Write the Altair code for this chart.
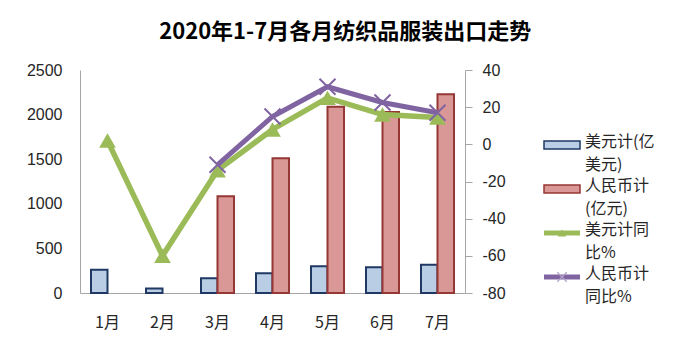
import altair as alt
import pandas as pd

# ---- data ----
months = ["1月", "2月", "3月", "4月", "5月", "6月", "7月"]
usd_value = [261, 50, 165, 221, 299, 288, 318]
cny_value = [None, None, 1084, 1510, 2089, 2030, 2228]
usd_yoy = [2, -60, -14, 8, 25, 16, 14.5]
cny_yoy = [None, None, -11, 15, 31, 22.5, 17]
bar_series = ["美元计(亿美元)", "人民币计(亿元)"]
line_series = ["美元计同比%", "人民币计同比%"]
legend_labels = ["美元计(亿\n美元)", "人民币计\n(亿元)", "美元计同\n比%", "人民币计\n同比%"]
left_ticks = [0, 500, 1000, 1500, 2000, 2500]
right_ticks = [-80, -60, -40, -20, 0, 20, 40]
title_text = "2020年1-7月各月纺织品服装出口走势"

# ---- styles ----
CJK = "Noto Sans CJK SC"
NUM = "Liberation Sans"
bar_fill = ["#B9CDE5", "#D99795"]
bar_stroke = ["#1F3864", "#953735"]
GREEN = "#9BBB59"
PURPLE = "#8064A2"
AXIS_C = "#A6A6A6"
TXT = "#262626"

# ---- tables ----
bar_rows = []
for m, u, c in zip(months, usd_value, cny_value):
    if u is not None:
        bar_rows.append({"month": m, "series": bar_series[0], "value": u})
    if c is not None:
        bar_rows.append({"month": m, "series": bar_series[1], "value": c})
bars_df = pd.DataFrame(bar_rows)

line_rows = []
for m, u, c in zip(months, usd_yoy, cny_yoy):
    if u is not None:
        line_rows.append({"month": m, "series": line_series[0], "yoy": u})
    if c is not None:
        line_rows.append({"month": m, "series": line_series[1], "yoy": c})
lines_df = pd.DataFrame(line_rows)

x_enc = alt.X(
    "month:N", sort=months,
    scale=alt.Scale(domain=months, paddingInner=0.4, paddingOuter=0.2),
    axis=alt.Axis(title=None, labelAngle=0, ticks=False, tickSize=0,
                  labelFont=CJK, labelFontSize=16, labelPadding=21,
                  labelColor=TXT, domainColor=AXIS_C),
)

bars = alt.Chart(bars_df).mark_bar(strokeWidth=2).encode(
    x=x_enc,
    xOffset=alt.XOffset("series:N", sort=bar_series,
                        scale=alt.Scale(domain=bar_series, paddingInner=0, paddingOuter=0)),
    y=alt.Y("value:Q", scale=alt.Scale(domain=[0, 2500]),
            axis=alt.Axis(title=None, values=left_ticks, labelExpr="toString(datum.value)",
                          orient="left", ticks=False,
                          tickSize=0, labelPadding=18, labelFont=NUM, labelFontSize=16,
                          labelColor=TXT, domainColor=AXIS_C)),
    fill=alt.Fill("series:N", scale=alt.Scale(domain=bar_series, range=bar_fill), legend=None),
    stroke=alt.Stroke("series:N", scale=alt.Scale(domain=bar_series, range=bar_stroke), legend=None),
)

y_right = alt.Y("yoy:Q", scale=alt.Scale(domain=[-80, 40]),
                axis=alt.Axis(title=None, values=right_ticks, labelExpr="toString(datum.value)",
                              orient="right", tickSize=7,
                              labelPadding=10, labelFont=NUM, labelFontSize=16,
                              labelColor=TXT, domainColor=AXIS_C, tickColor=AXIS_C))

lbase = alt.Chart(lines_df).encode(x=x_enc, y=y_right)
g_line = lbase.transform_filter(alt.datum.series == line_series[0]).mark_line(
    color=GREEN, strokeWidth=5.5)
g_pts = lbase.transform_filter(alt.datum.series == line_series[0]).mark_point(
    shape="triangle-up", filled=True, size=280, color=GREEN, opacity=1)
p_line = lbase.transform_filter(alt.datum.series == line_series[1]).mark_line(
    color=PURPLE, strokeWidth=5)
p_pts = lbase.transform_filter(alt.datum.series == line_series[1]).mark_point(
    shape="M-1,-1L1,1M-1,1L1,-1", filled=False, size=256, strokeWidth=2,
    color=PURPLE, opacity=1)

lines = alt.layer(g_line, g_pts, p_line, p_pts)

main = alt.layer(bars, lines).resolve_scale(y="independent").properties(
    width=385, height=223)

# ---- legend panel ----
all_items = bar_series + line_series
leg_df = pd.DataFrame({"item": all_items, "label": legend_labels})
leg_y = alt.Y("item:N", sort=all_items,
              scale=alt.Scale(type="point", domain=all_items, range=[75, 207], padding=0),
              axis=None)
lb = alt.Chart(leg_df).encode(y=leg_y)

leg_bar = lb.transform_filter(alt.FieldOneOfPredicate(field="item", oneOf=bar_series)).mark_point(
    shape="M-1,-0.22H1V0.22H-1Z", size=1296, filled=True, strokeWidth=1.5, opacity=1
).encode(
    x=alt.value(18),
    fill=alt.Fill("item:N", scale=alt.Scale(domain=bar_series, range=bar_fill), legend=None),
    stroke=alt.Stroke("item:N", scale=alt.Scale(domain=bar_series, range=bar_stroke), legend=None),
)
leg_line = lb.transform_filter(alt.FieldOneOfPredicate(field="item", oneOf=line_series)).mark_point(
    shape="M-1,-0.14H1V0.14H-1Z", size=1296, filled=True, opacity=1, strokeWidth=0
).encode(
    x=alt.value(18),
    color=alt.Color("item:N", scale=alt.Scale(domain=line_series, range=[GREEN, PURPLE]), legend=None),
)
leg_tri = lb.transform_filter(alt.datum.item == line_series[0]).mark_point(
    shape="triangle-up", filled=True, size=70, color=GREEN, opacity=1).encode(x=alt.value(18))
leg_x = lb.transform_filter(alt.datum.item == line_series[1]).mark_point(
    shape="M-1,-1L1,1M-1,1L1,-1", filled=False, size=90, strokeWidth=1.2,
    color="#B3A2C7", opacity=1).encode(x=alt.value(18))
leg_text = lb.mark_text(align="left", baseline="top", lineBreak="\n", font=CJK,
                        fontSize=16, lineHeight=23, dy=-11, color=TXT).encode(
    x=alt.value(41), text="label:N")

legend = alt.layer(leg_bar, leg_line, leg_tri, leg_x, leg_text).properties(width=120, height=223)

chart = alt.hconcat(main, legend, spacing=35).resolve_scale(
    color="independent", fill="independent", stroke="independent"
).properties(
    title=alt.TitleParams(text=title_text, font=CJK, fontSize=22, fontWeight="bold",
                          anchor="middle", color="#000000", offset=18),
    padding={"left": 18, "top": 13, "right": 5, "bottom": 5},
).configure_view(stroke=None).configure_axis(grid=False)

chart.save("out.html", embed_options={"renderer": "svg", "actions": False})
